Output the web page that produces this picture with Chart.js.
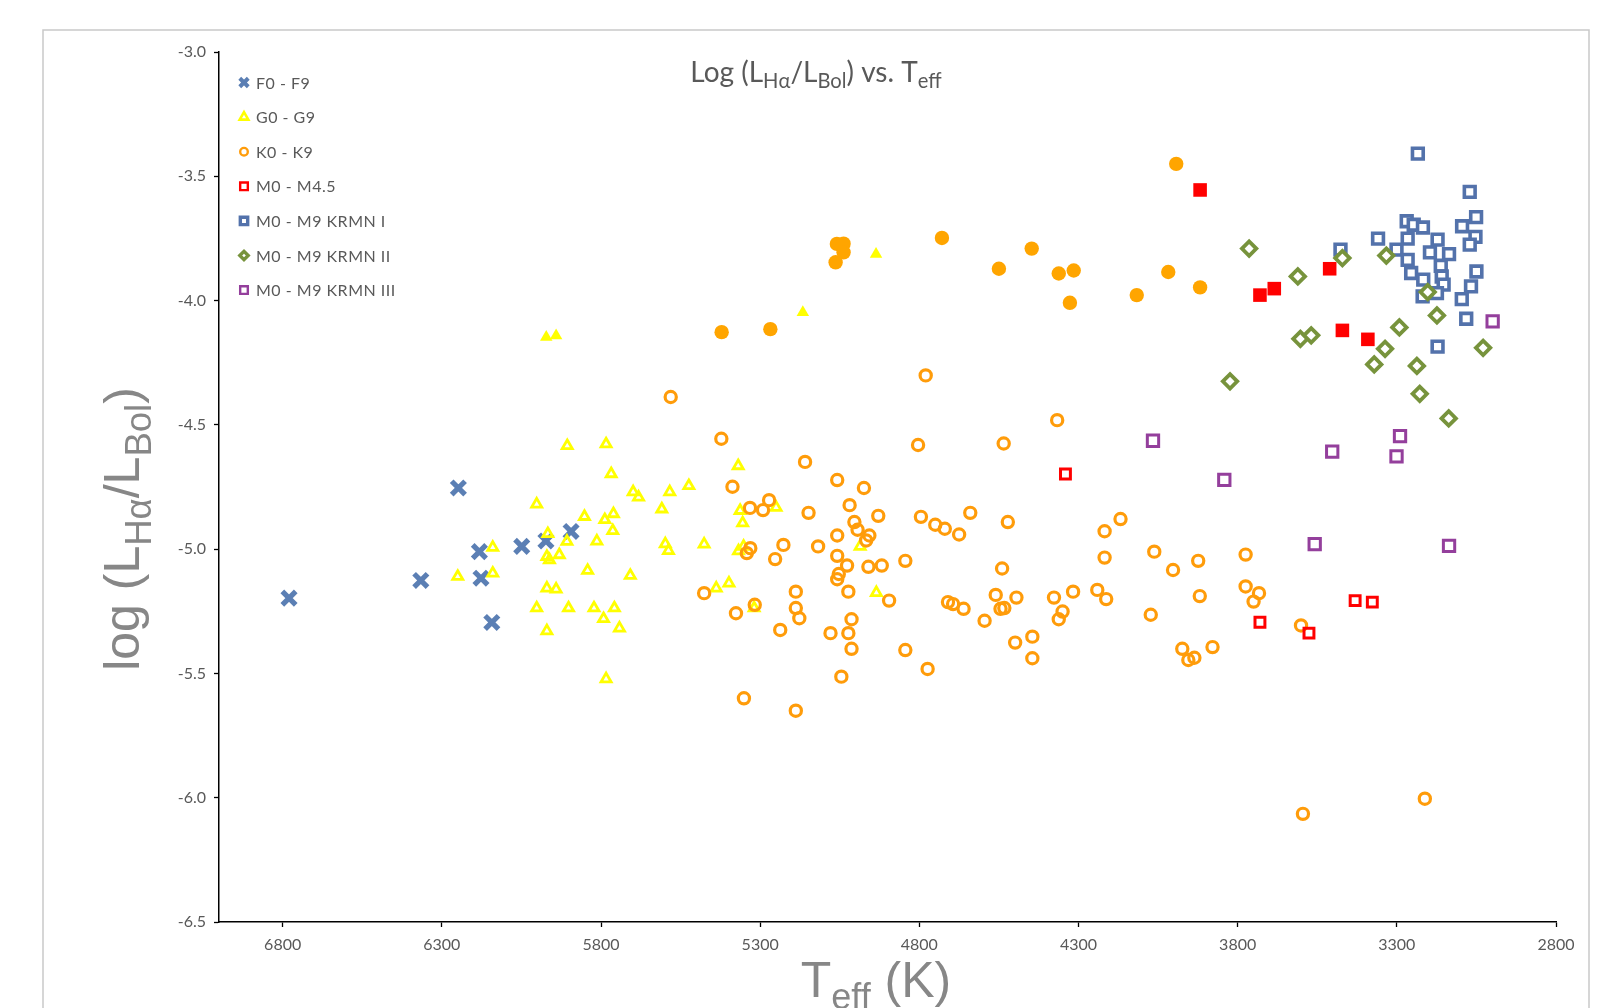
<!DOCTYPE html>
<html><head><meta charset="utf-8">
<script src="https://cdn.jsdelivr.net/npm/chart.js@4.4.0/dist/chart.umd.min.js"></script>
<style>html,body{margin:0;padding:0;background:#fff;}#wrap{width:1612px;height:1008px;position:relative;overflow:hidden}</style>
</head><body><div id="wrap"><canvas id="c" width="1612" height="1008"></canvas></div>
<script>
// ---------- tick labels ----------
const xTicks = [2800, 3300, 3800, 4300, 4800, 5300, 5800, 6300, 6800];
const yTicks = [-6.5, -6.0, -5.5, -5.0, -4.5, -4.0, -3.5, -3.0];

// ---------- series names ----------
const legendNames = ['F0 - F9', 'G0 - G9', 'K0 - K9', 'M0 - M4.5', 'M0 - M9 KRMN I', 'M0 - M9 KRMN II', 'M0 - M9 KRMN III'];

// ---------- data: [Teff (K), log(LHa/LBol)] ----------
const fStars = [[6780,-5.197],[6248,-4.754],[6366,-5.126],[6182,-5.010],[6177,-5.117],[6143,-5.295],[6049,-4.989],[5973,-4.967],[5894,-4.929]];

const gStars = [[5906,-4.584],[5784,-4.577],[5768,-4.697],[6002,-4.819],[5852,-4.869],[5788,-4.882],[5761,-4.858],[5763,-4.926],
[5699,-4.770],[5682,-4.791],[5584,-4.770],[5524,-4.745],[5609,-4.839],[5967,-4.938],[5907,-4.969],[5813,-4.968],
[5970,-5.030],[5962,-5.043],[5931,-5.023],[6140,-4.993],[6140,-5.097],[6250,-5.110],[5842,-5.086],[5708,-5.106],
[5598,-4.979],[5588,-5.006],[5476,-4.980],[5970,-5.157],[5941,-5.161],[6002,-5.237],[5902,-5.237],[5822,-5.237],
[5758,-5.237],[5792,-5.280],[5742,-5.318],[5970,-5.329],[5784,-5.522],[5369,-4.665],[5363,-4.845],[5250,-4.832],
[5355,-4.895],[5368,-5.007],[5352,-4.989],[4986,-4.989],[5438,-5.157],[5398,-5.137],[5319,-5.237],[4935,-5.175]];
const gStarsActive = [[5972,-4.147],[5941,-4.141],[5166,-4.048],[4936,-3.813]];

const kStars = [[4780,-4.301],[5581,-4.388],[4367,-4.481],[5422,-4.556],[4804,-4.581],[4535,-4.575],[5159,-4.649],[5387,-4.749],
[5058,-4.722],[4974,-4.754],[5332,-4.834],[5291,-4.843],[5272,-4.803],[5148,-4.854],[5019,-4.823],[4929,-4.866],
[5004,-4.891],[4994,-4.922],[4957,-4.945],[4967,-4.965],[5058,-4.945],[4795,-4.870],[4750,-4.902],[4720,-4.918],
[4675,-4.941],[4640,-4.854],[4522,-4.891],[4218,-4.928],[4168,-4.879],[4218,-5.034],[5331,-4.996],[5342,-5.016],
[5227,-4.983],[5253,-5.040],[5118,-4.989],[5058,-5.027],[5027,-5.066],[5053,-5.100],[5058,-5.121],[4960,-5.071],
[4918,-5.066],[4844,-5.047],[4540,-5.078],[5476,-5.177],[5188,-5.171],[5023,-5.171],[4895,-5.207],[4710,-5.213],
[4694,-5.221],[4661,-5.240],[4560,-5.184],[4545,-5.240],[4533,-5.237],[4495,-5.195],[4595,-5.288],[4377,-5.195],
[4317,-5.171],[4350,-5.251],[4362,-5.282],[4241,-5.164],[4213,-5.201],[4073,-5.264],[5317,-5.224],[5376,-5.258],
[5188,-5.237],[5177,-5.278],[5237,-5.325],[5013,-5.282],[5079,-5.338],[5023,-5.338],[5013,-5.401],[4844,-5.406],
[4774,-5.482],[4499,-5.376],[4445,-5.352],[4445,-5.439],[5045,-5.513],[5351,-5.600],[5188,-5.650],
[4062,-5.010],[4003,-5.084],[3924,-5.047],[3775,-5.022],[3919,-5.189],[3775,-5.150],[3733,-5.177],[3750,-5.211],
[3601,-5.307],[3974,-5.401],[3955,-5.446],[3936,-5.437],[3879,-5.394],[3212,-6.004],[3595,-6.065]];
const kStarsActive = [[5421,-4.127],[5268,-4.115],[5059,-3.772],[5038,-3.771],[5038,-3.806],[5063,-3.846],[4729,-3.748],[3993,-3.450],
[4447,-3.791],[4550,-3.872],[4362,-3.891],[4315,-3.879],[4327,-4.009],[4117,-3.978],[4018,-3.885],[3918,-3.947]];

const mStars = [[4341,-4.698],[3730,-5.294],[3576,-5.338],[3431,-5.207],[3377,-5.213]];
const mStarsActive = [[3918,-3.555],[3730,-3.978],[3685,-3.952],[3511,-3.872],[3471,-4.120],[3391,-4.156]];

const krmn1 = [[3234,-3.409],[3071,-3.563],[3051,-3.664],[3095,-3.701],[3053,-3.744],[3071,-3.775],[3269,-3.681],[3247,-3.695],
[3218,-3.706],[3359,-3.751],[3477,-3.795],[3266,-3.751],[3301,-3.795],[3172,-3.755],[3196,-3.806],[3136,-3.813],
[3266,-3.836],[3255,-3.889],[3162,-3.860],[3159,-3.903],[3217,-3.916],[3153,-3.936],[3174,-3.970],[3050,-3.883],
[3067,-3.943],[3096,-3.994],[3219,-3.983],[3082,-4.073],[3172,-4.185]];
const krmn2 = [[3764,-3.791],[3611,-3.903],[3603,-4.154],[3569,-4.140],[3824,-4.325],[3471,-3.829],[3333,-3.819],[3203,-3.966],
[3174,-4.060],[3292,-4.108],[3337,-4.194],[3371,-4.257],[3237,-4.263],[3228,-4.375],[3137,-4.474],[3029,-4.190]];
const krmn3 = [[2999,-4.084],[4066,-4.564],[3842,-4.721],[3503,-4.608],[3290,-4.545],[3301,-4.627],[3558,-4.980],[3136,-4.987]];

// ---------- build datasets ----------
const toXY = arr => arr.map(p => ({x: p[0], y: p[1]}));
const none = 'rgba(0,0,0,0)';
const defs = [
  {label: legendNames[0], data: fStars, pointStyle: 'crossRot', radius: 9.5, bw: 5.2, border: '#5b7fb4', fill: none, lr: 6, lbw: 4},
  {label: legendNames[1], data: gStars, pointStyle: 'triangle', radius: 5.8, bw: 2.8, border: '#ffff00', fill: none, lr: 5, lbw: 2.6},
  {label: legendNames[2], data: kStars, pointStyle: 'circle', radius: 5.6, bw: 3.2, border: '#ff9c0a', fill: none, lr: 3.8, lbw: 2.4},
  {label: legendNames[3], data: mStars, pointStyle: 'rect', radius: 7.0, bw: 3, border: '#ff0000', fill: none, lr: 5.4, lbw: 2.4},
  {label: legendNames[4], data: krmn1, pointStyle: 'rect', radius: 7.6, bw: 3.6, border: '#5372ab', fill: '#ffffff', lr: 5.2, lbw: 3.4},
  {label: legendNames[5], data: krmn2, pointStyle: 'rectRot', radius: 7.2, bw: 3.8, border: '#77933c', fill: '#ffffff', lr: 4.2, lbw: 3.4},
  {label: legendNames[6], data: krmn3, pointStyle: 'rect', radius: 8.0, bw: 3, border: '#943f9c', fill: none, lr: 5.4, lbw: 2.4},
  {label: 'G0 - G9 (filled)', data: gStarsActive, pointStyle: 'triangle', radius: 7.2, bw: 0, border: '#ffff00', fill: '#ffff00'},
  {label: 'K0 - K9 (filled)', data: kStarsActive, pointStyle: 'circle', radius: 7.2, bw: 0, border: '#ffa500', fill: '#ffa500'},
  {label: 'M0 - M4.5 (filled)', data: mStarsActive, pointStyle: 'rect', radius: 9.6, bw: 0, border: '#ff0000', fill: '#ff0000'}
];
const N = defs.length;
const datasets = defs.map((d, i) => ({
  label: d.label,
  data: toXY(d.data),
  showLine: false,
  pointStyle: d.pointStyle,
  pointRadius: d.radius,
  pointHoverRadius: d.radius,
  pointBorderWidth: d.bw,
  pointHoverBorderWidth: d.bw,
  pointBorderColor: d.border,
  pointBackgroundColor: d.fill,
  borderColor: d.border,
  backgroundColor: d.fill,
  order: N - i
}));

// ---------- helpers for rich text (subscripts) ----------
function drawRich(ctx, segs, x, y, size, family, color, subScale, subDrop) {
  let total = 0;
  const ws = segs.map(s => {
    const fs = s.sub ? size * subScale : size;
    ctx.font = fs + 'px ' + family;
    const w = ctx.measureText(s.t).width;
    total += w;
    return w;
  });
  let cx = x - total / 2;
  ctx.fillStyle = color;
  ctx.textAlign = 'left';
  ctx.textBaseline = 'alphabetic';
  segs.forEach((s, i) => {
    const fs = s.sub ? size * subScale : size;
    ctx.font = fs + 'px ' + family;
    ctx.fillText(s.t, cx, y + (s.sub ? size * subDrop : 0));
    cx += ws[i];
  });
}

const frameAndText = {
  id: 'frameAndText',
  beforeDraw(chart) {
    const ctx = chart.ctx;
    ctx.save();
    ctx.fillStyle = '#ffffff';
    ctx.fillRect(0, 0, chart.width, chart.height);
    ctx.strokeStyle = '#c9c9c9';
    ctx.lineWidth = 1.5;
    ctx.strokeRect(43, 30, 1546, 1010);
    ctx.restore();
  },
  afterDraw(chart) {
    const ctx = chart.ctx;
    ctx.save();
    // chart title
    drawRich(ctx, [{t: 'Log (L'}, {t: 'Hα', sub: true}, {t: '/L'}, {t: 'Bol', sub: true}, {t: ') vs. T'}, {t: 'eff', sub: true}],
      816, 82, 28, 'Lato, "Open Sans", sans-serif', '#595959', 0.72, 0.22);
    // x axis title
    drawRich(ctx, [{t: 'T'}, {t: 'eff', sub: true}, {t: ' (K)'}],
      876, 997, 50, '"Liberation Sans", Arial, sans-serif', '#878787', 0.72, 0.24);
    // y axis title
    ctx.save();
    ctx.translate(139, 529);
    ctx.rotate(-Math.PI / 2);
    drawRich(ctx, [{t: 'log (L'}, {t: 'Hα', sub: true}, {t: '/L'}, {t: 'Bol', sub: true}, {t: ')'}],
      0, 0, 50, '"Liberation Sans", Arial, sans-serif', '#878787', 0.73, 0.24);
    ctx.restore();
    // legend
    const lx = 244, ly0 = 82.5, dy = 34.6;
    for (let i = 0; i < legendNames.length; i++) {
      const d = defs[i];
      const y = ly0 + i * dy;
      ctx.save();
      ctx.strokeStyle = d.border;
      ctx.fillStyle = d.fill;
      ctx.lineWidth = d.lbw;
      Chart.helpers.drawPoint(ctx, {pointStyle: d.pointStyle, radius: d.lr, borderWidth: d.lbw, rotation: 0}, lx, y);
      ctx.restore();
      ctx.save();
      ctx.font = '16px Lato, "Open Sans", sans-serif';
      if ('letterSpacing' in ctx) ctx.letterSpacing = '0.5px';
      ctx.fillStyle = '#595959';
      ctx.textAlign = 'left';
      ctx.textBaseline = 'middle';
      ctx.fillText(legendNames[i], 256, y + 1);
      ctx.restore();
    }
    ctx.restore();
  }
};

new Chart(document.getElementById('c'), {
  type: 'scatter',
  data: {datasets},
  options: {
    responsive: false,
    animation: false,
    events: [],
    layout: {autoPadding: false, padding: {left: 0, top: 52, right: 56, bottom: 0}},
    plugins: {legend: {display: false}, title: {display: false}, tooltip: {enabled: false}},
    scales: {
      x: {
        type: 'linear', reverse: true, min: 2800, max: 7000,
        afterBuildTicks: s => { s.ticks = xTicks.map(v => ({value: v})); },
        afterFit: s => { s.height = 86; },
        grid: {drawOnChartArea: false, drawTicks: true, tickLength: 5, color: '#000', tickWidth: 1.3},
        border: {display: true, color: '#000', width: 1.5},
        ticks: {color: '#595959', font: {family: 'Lato, "Open Sans", sans-serif', size: 16}, padding: 8, maxRotation: 0,
          callback: v => String(v)}
      },
      y: {
        type: 'linear', min: -6.5, max: -3.0,
        afterBuildTicks: s => { s.ticks = yTicks.map(v => ({value: v})); },
        afterFit: s => { s.width = 219; },
        grid: {drawOnChartArea: false, drawTicks: true, tickLength: 5, color: '#000', tickWidth: 1.3},
        border: {display: true, color: '#000', width: 1.5},
        ticks: {color: '#595959', font: {family: 'Lato, "Open Sans", sans-serif', size: 16}, padding: 8,
          callback: v => v.toFixed(1)}
      }
    }
  },
  plugins: [frameAndText]
});
</script>
</body></html>
